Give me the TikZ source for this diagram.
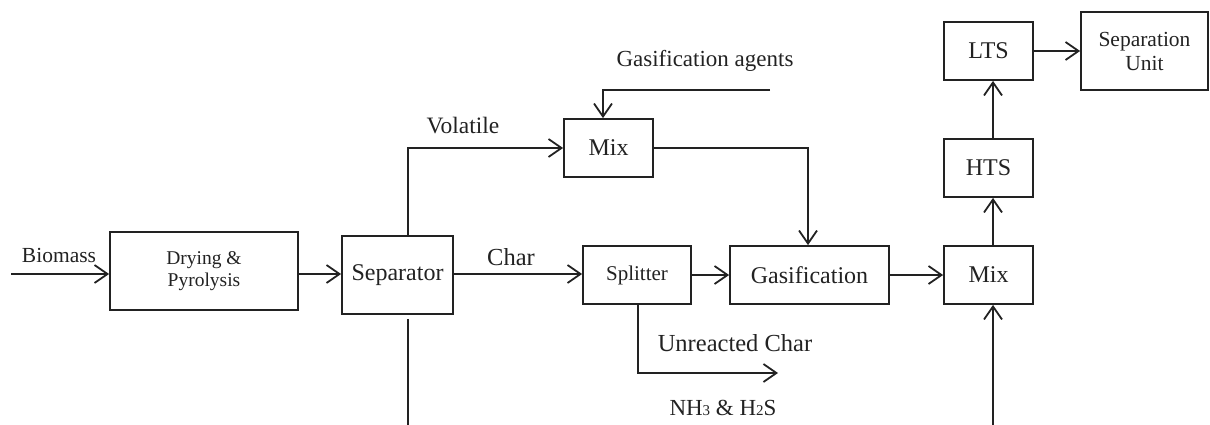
\documentclass[tikz,border=0pt]{standalone}
\usepackage{fontspec}
\setmainfont{Liberation Serif}
\usetikzlibrary{arrows.meta}
\definecolor{ink}{HTML}{222222}
\tikzset{
  unit/.style={draw=ink, line width=1.8pt, rectangle, inner sep=0pt, align=center,
    text=ink, font=\fontsize{24}{26}\selectfont},
  flow/.style={draw=ink, line width=1.8pt, -{Straight Barb[length=13pt,width=18pt,line width=1.8pt]}},
  pipe/.style={draw=ink, line width=1.8pt},
  lbl/.style={text=ink, font=\fontsize{23.5}{25}\selectfont, inner sep=0pt},
}
\begin{document}
\begin{tikzpicture}[x=1pt,y=-1pt]
\useasboundingbox (0,0) rectangle (1210,425);

% process units
\node[unit, minimum width=188pt, minimum height=78pt, font=\fontsize{19.5}{22}\selectfont] (dry) at (204,271) {Drying \&\\Pyrolysis};
\node[unit, minimum width=111pt, minimum height=78pt] (sep) at (397.5,275) {Separator};
\node[unit, minimum width=89pt, minimum height=58pt] (mixa) at (608.5,148) {Mix};
\node[unit, minimum width=108pt, minimum height=58pt, font=\fontsize{21}{23}\selectfont] (split) at (637,275) {Splitter};
\node[unit, minimum width=159pt, minimum height=58pt] (gas) at (809.5,275) {Gasification};
\node[unit, minimum width=89pt, minimum height=58pt] (mixb) at (988.5,275) {Mix};
\node[unit, minimum width=89pt, minimum height=58pt] (hts) at (988.5,168) {HTS};
\node[unit, minimum width=89pt, minimum height=58pt] (lts) at (988.5,51) {LTS};
\node[unit, minimum width=127pt, minimum height=78pt, font=\fontsize{21.5}{24}\selectfont] (su) at (1144.5,51) {Separation\\Unit};

% free ends of the streams
\coordinate (bioin) at (11,274);
\coordinate (agin) at (770,90);
\coordinate (ash) at (408,425);
\coordinate (syn) at (993,425);
\coordinate (uchar) at (778,373);

% streams
\draw[flow] (bioin) -- (dry.west |- bioin);
\draw[flow] ([yshift=1pt]sep.west -| dry.east) -- ([yshift=1pt]sep.west);
\draw[flow] ([xshift=10.5pt]sep.north) |- (mixa.west);
\draw[flow] (agin) -| ([xshift=-5.5pt]mixa.north);
\draw[flow] (mixa.east) -| ([xshift=-1.5pt]gas.north);
\draw[flow] ([yshift=1pt]sep.east) -- ([yshift=1pt]split.west);
\draw[flow] (split.east) -- (gas.west);
\draw[flow] (gas.east) -- (mixb.west);
\draw[flow] ([xshift=1pt]split.south) |- (uchar);
\draw[pipe] ([xshift=10.5pt,yshift=-4pt]sep.south) -- (ash);
\draw[flow] (syn) -- ([xshift=4.5pt]mixb.south);
\draw[flow] ([xshift=4.5pt]mixb.north) -- ([xshift=4.5pt]hts.south);
\draw[flow] ([xshift=4.5pt]hts.north) -- ([xshift=4.5pt]lts.south);
\draw[flow] (lts.east) -- (su.west |- lts.east);

% stream labels
\node[lbl, font=\fontsize{21.5}{24}\selectfont] (lbio) at (59,255) {Biomass};
\node[lbl] (lvol) at (463,126) {Volatile};
\node[lbl, font=\fontsize{23}{25}\selectfont] (lag) at (705,61) {Gasification agents};
\node[lbl, font=\fontsize{24.5}{26}\selectfont] (lchar) at (511,257) {Char};
\node[lbl, font=\fontsize{24.5}{26}\selectfont] (luc) at (735,343) {Unreacted Char};
\node[lbl, font=\fontsize{23}{25}\selectfont] (lnh) at (723,408) {NH{\fontsize{15}{15}\selectfont 3} \& H{\fontsize{15}{15}\selectfont 2}S};
\end{tikzpicture}
\end{document}
